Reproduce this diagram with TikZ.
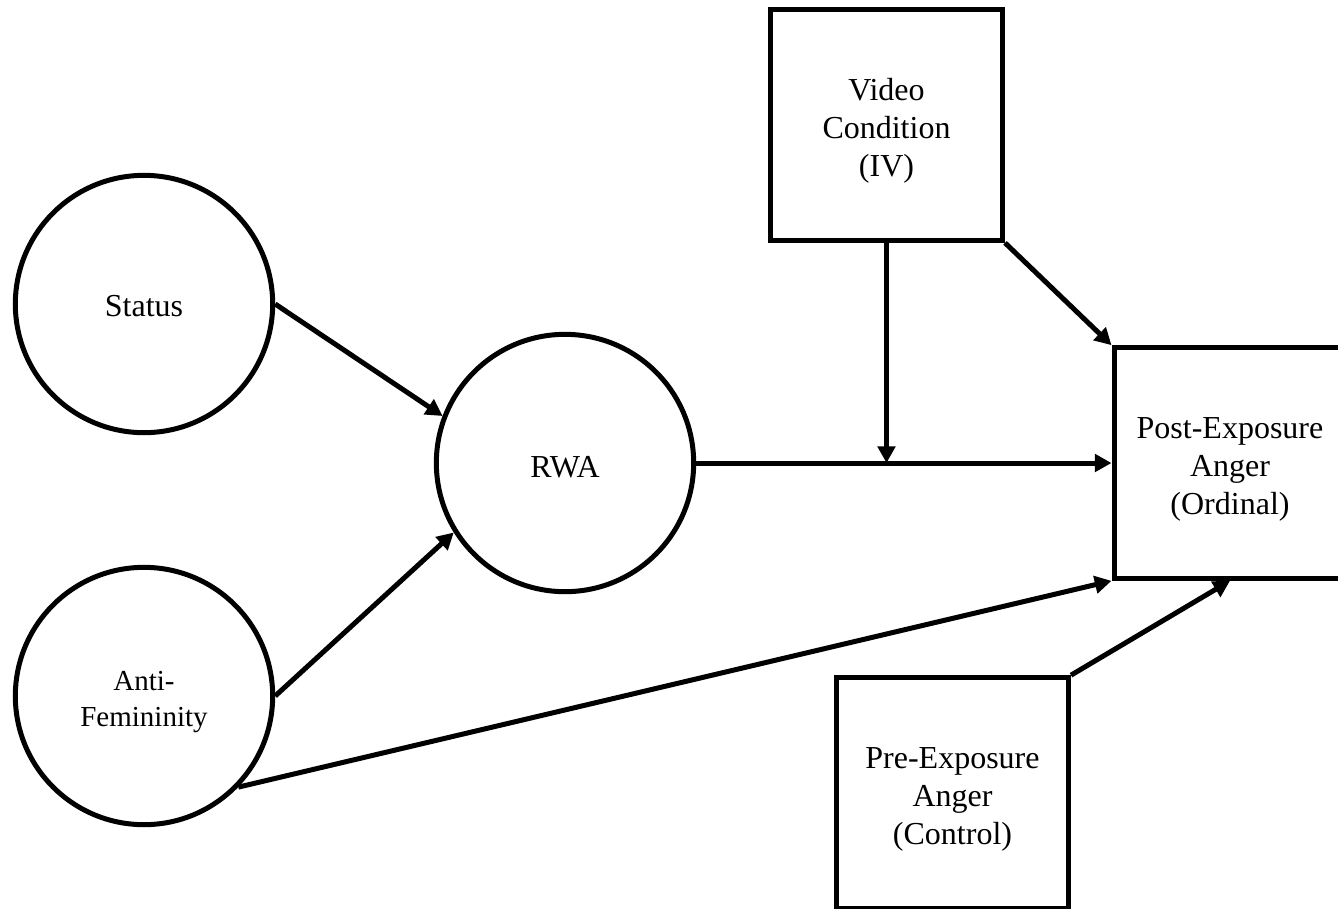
\documentclass[tikz,border=0pt]{standalone}
\usepackage{fontspec}
\setmainfont{Liberation Serif}
\usetikzlibrary{arrows.meta}
% invisible strut that lowers the text block inside its node
\newcommand{\lowerby}[1]{\rule{0pt}{#1}}
\begin{document}
\begin{tikzpicture}[x=0.75pt,y=-0.75pt,
  line width=3.75pt,
  latent/.style={circle,draw,fill=white,minimum size=193pt,inner sep=0pt,
    align=center,font=\fontsize{24}{28.5}\selectfont},
  observed/.style={rectangle,draw,fill=white,minimum width=174pt,minimum height=173pt,
    inner sep=0pt,align=center,font=\fontsize{24}{28.5}\selectfont},
  path/.style={-{Triangle[length=12.5pt,width=13pt]},line width=3.75pt}]
\useasboundingbox (0,0) rectangle (1338,908);
\clip (0,0) rectangle (1338,908);

% variables
\node[latent] (status) at (144,304) {\lowerby{19.5pt}Status};
\node[latent,font=\fontsize{21.75}{26.5}\selectfont] (antifem) at (144,696) {\lowerby{23.5pt}Anti-\\Femininity};
\node[latent] (rwa) at (565,463) {\lowerby{22pt}RWA};
\node[observed] (video) at (886.5,125) {\lowerby{25.5pt}Video\\Condition\\(IV)};
\node[observed] (post) at (1230,463) {\lowerby{25.5pt}Post-Exposure\\Anger\\(Ordinal)};
\node[observed] (pre) at (952.5,793) {\lowerby{25.5pt}Pre-Exposure\\Anger\\(Control)};

% moderation point on the RWA path
\coordinate (mod) at (video.south |- post.west);

% paths
\draw[path] (status.east) -- (rwa.159);
\draw[path] (antifem.east) -- (rwa.212);
\draw[path] (antifem.-44) -- (post.south west);
\draw[path] (rwa.east) -- (post.west);
\draw[path] (video.south) -- (mod);
\draw[path] (video.south east) -- (post.north west);
\draw[path] (pre.north east) -- (post.south);
\end{tikzpicture}
\end{document}
